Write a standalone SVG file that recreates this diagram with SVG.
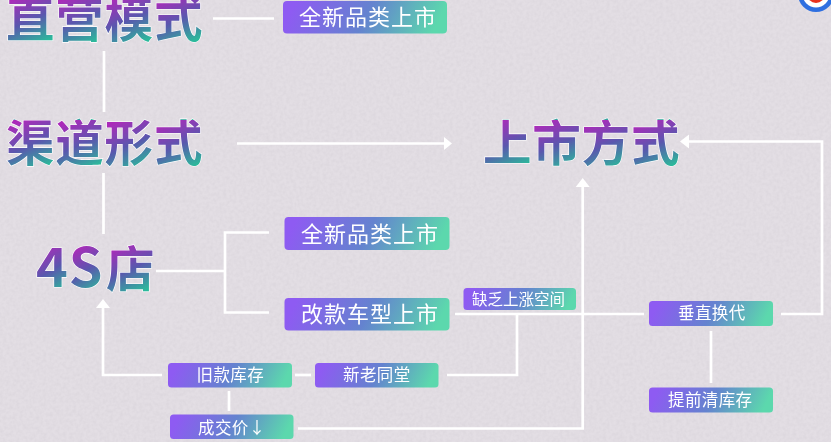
<svg xmlns="http://www.w3.org/2000/svg" width="831" height="442" viewBox="0 0 831 442">
<style>
text{font-family:"Noto Sans CJK SC","Noto Sans",sans-serif;filter:url(#soft)}
.t{font-size:48.500px;font-weight:700;letter-spacing:.8px;stroke:#fff;stroke-width:1.200px;paint-order:stroke}
.l{font-size:22px;letter-spacing:1px;fill:#fff}
.m{font-size:16.500px;letter-spacing:.4px;fill:#fff}
.s{font-size:15.500px;letter-spacing:0;fill:#fff}
.p{fill:url(#pill)}
#connectors path{fill:none;stroke:#fff;stroke-width:2.700}
#connectors polygon{fill:#fff}
</style>
<defs>
<linearGradient id="pill" x1="0" y1="0" x2="1" y2="0.1"><stop offset="0.08" stop-color="#8e5bf2"/><stop offset="0.55" stop-color="#6483cf"/><stop offset="1" stop-color="#5cd8ad"/></linearGradient>
<linearGradient id="g" x1="0.3" y1="0.02" x2="0.75" y2="1"><stop offset="0" stop-color="#aa2cb9"/><stop offset="0.5" stop-color="#5a57ae"/><stop offset="1" stop-color="#2cb99b"/></linearGradient>
<pattern id="p1" patternUnits="userSpaceOnUse" x="7" y="-5" width="49.300" height="47"><rect width="49.300" height="47" fill="url(#g)"/></pattern>
<pattern id="p2" patternUnits="userSpaceOnUse" x="7" y="120" width="49.300" height="47"><rect width="49.300" height="47" fill="url(#g)"/></pattern>
<pattern id="p3" patternUnits="userSpaceOnUse" x="484" y="120" width="49.300" height="47"><rect width="49.300" height="47" fill="url(#g)"/></pattern>
<pattern id="p4" patternUnits="userSpaceOnUse" x="35" y="245" width="35.500" height="47"><rect width="35.500" height="47" fill="url(#g)"/></pattern>
<pattern id="p5" patternUnits="userSpaceOnUse" x="106" y="245" width="47" height="47"><rect width="47" height="47" fill="url(#g)"/></pattern>
<filter id="noise" x="0" y="0" width="100%" height="100%"><feTurbulence type="fractalNoise" baseFrequency="0.3" numOctaves="2" seed="4"/><feColorMatrix values="0 0 0 0 0.45 0 0 0 0 0.42 0 0 0 0 0.47 0.25 0 0 0 -0.08"/></filter>
<filter id="soft" x="-5%" y="-5%" width="110%" height="110%"><feGaussianBlur stdDeviation="0.35"/></filter>
</defs>
<rect width="831" height="442" fill="#e3dee4"/>
<rect width="831" height="442" filter="url(#noise)"/>
<g id="badge"><circle cx="816" cy="-6" r="18" fill="#2f6fe0"/><circle cx="816" cy="-6" r="13.500" fill="#fff"/><circle cx="816" cy="-6" r="9" fill="#e8321e"/></g>
<g id="connectors">
<path d="M213 18.500H274"/>
<path d="M104 51V112"/>
<path d="M103.500 173V234"/>
<path d="M237 143.500H445"/><polygon points="452,143.500 444,137 444,150"/>
<path d="M156 271H224"/>
<path d="M269 232.500H225V312.500H269"/>
<path d="M162 375H103V306"/><polygon points="103,299 96,308 110,308"/>
<path d="M295 375H311"/>
<path d="M447 375H517V314"/>
<path d="M455 314H644"/>
<path d="M229 391V411"/>
<path d="M298 428.500H582.700V185"/><polygon points="582.700,178 575.700,187 589.700,187"/>
<path d="M781 314H822V141.500H687"/><polygon points="680,141.500 689,134.500 689,148.500"/>
<path d="M711 331V383"/>
</g>
<g id="n-zhiying"><text class="t" x="6" y="37" fill="url(#p1)">直营模式</text></g>
<g id="n-qudao"><text class="t" x="6" y="161" fill="url(#p2)">渠道形式</text></g>
<g id="n-shangshi"><text class="t" x="483" y="161" fill="url(#p3)">上市方式</text></g>
<g id="n-4s"><text class="t" x="36" y="287"><tspan font-size="54" fill="url(#p4)">4S</tspan><tspan x="106" fill="url(#p5)">店</tspan></text></g>
<g id="n-a"><rect class="p" x="283" y="1" width="164" height="32.500" rx="4"/><text class="l" x="299" y="25">全新品类上市</text></g>
<g id="n-b"><rect class="p" x="284.500" y="217" width="165" height="33" rx="4"/><text class="l" x="301" y="242">全新品类上市</text></g>
<g id="n-c"><rect class="p" x="284.500" y="298" width="165" height="32.500" rx="4"/><text class="l" x="301" y="322">改款车型上市</text></g>
<g id="n-d"><rect class="p" x="168" y="363" width="124" height="24.500" rx="3.500"/><text class="m" x="196.500" y="381">旧款库存</text></g>
<g id="n-e"><rect class="p" x="315" y="363" width="123.500" height="24.500" rx="3.500"/><text class="m" x="343" y="381">新老同堂</text></g>
<g id="n-f"><rect class="p" x="170" y="414.500" width="123.500" height="24.500" rx="3.500"/><text class="m" x="198" y="434">成交价↓</text></g>
<g id="n-g"><rect class="p" x="463.500" y="288" width="112.500" height="22" rx="3.500"/><text class="s" x="472" y="305">缺乏上涨空间</text></g>
<g id="n-h"><rect class="p" x="649" y="301" width="124" height="25" rx="3.500"/><text class="m" x="678" y="319">垂直换代</text></g>
<g id="n-i"><rect class="p" x="649" y="387.500" width="124" height="25" rx="3.500"/><text class="m" x="668" y="406">提前清库存</text></g>
</svg>
